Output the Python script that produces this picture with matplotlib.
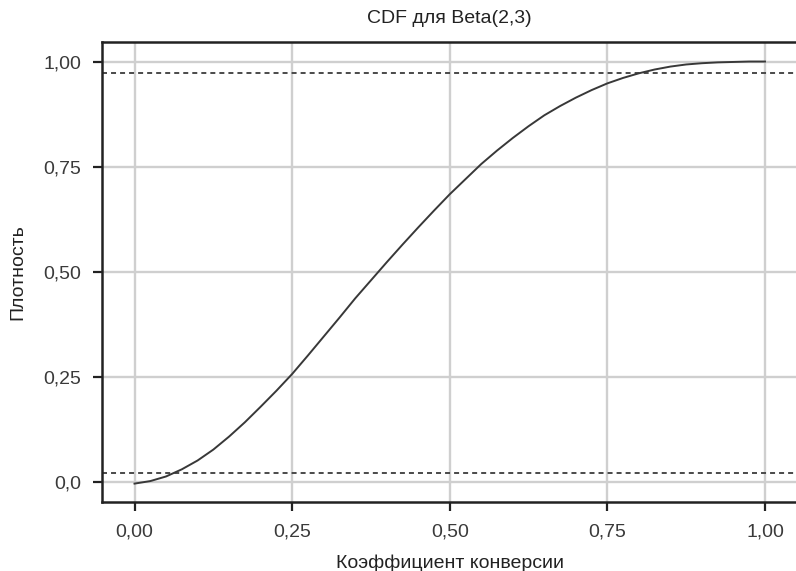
import matplotlib
matplotlib.use("Agg")
import matplotlib.pyplot as plt
from matplotlib.ticker import FixedLocator, FixedFormatter

plt.rcParams['font.family'] = ['Liberation Sans', 'DejaVu Sans']
plt.rcParams['lines.scale_dashes'] = False

# Cumulative distribution of conversion rate, Beta(2,3)
conv_rate = [0.000, 0.025, 0.050, 0.075, 0.100, 0.125, 0.150, 0.175, 0.200, 0.225,
             0.250, 0.275, 0.300, 0.325, 0.350, 0.375, 0.400, 0.425, 0.450, 0.475,
             0.500, 0.525, 0.550, 0.575, 0.600, 0.625, 0.650, 0.675, 0.700, 0.725,
             0.750, 0.775, 0.800, 0.825, 0.850, 0.875, 0.900, 0.925, 0.950, 0.975, 1.000]
cdf_values = [-0.005, 0.001, 0.012, 0.029, 0.050, 0.076, 0.107, 0.141, 0.178, 0.216,
              0.256, 0.300, 0.345, 0.390, 0.436, 0.479, 0.522, 0.564, 0.605, 0.645,
              0.684, 0.720, 0.756, 0.788, 0.818, 0.846, 0.872, 0.894, 0.914, 0.932,
              0.948, 0.961, 0.972, 0.981, 0.988, 0.993, 0.996, 0.998, 0.999, 1.000, 1.000]

# 95% interval bounds
lower_bound = 0.02
upper_bound = 0.973

x_ticks = [0.0, 0.25, 0.5, 0.75, 1.0]
x_tick_labels = ["0,00", "0,25", "0,50", "0,75", "1,00"]
y_ticks = [0.0, 0.25, 0.5, 0.75, 1.0]
y_tick_labels = ["0,0", "0,25", "0,50", "0,75", "1,00"]

title = "CDF для Beta(2,3)"
x_label = "Коэффициент конверсии"
y_label = "Плотность"

W, H = 796, 571
fig = plt.figure(figsize=(W / 100, H / 100), dpi=100)
ax = fig.add_axes([102.5 / W, 1 - 502 / H, (797 - 102.5) / W, (502 - 42.3) / H])

ax.set_xlim(-0.0508, 1.0508)
ax.set_ylim(-0.0488, 1.0458)

ax.set_axisbelow(True)
ax.grid(True, color="#cfcfcf", linewidth=1.7)

ax.axhline(lower_bound, color="#4a4a4a", linewidth=1.4, dashes=(3.6, 2.9), zorder=2)
ax.axhline(upper_bound, color="#4a4a4a", linewidth=1.4, dashes=(3.6, 2.9), zorder=2)

ax.plot(conv_rate, cdf_values, color="#383838", linewidth=1.4, zorder=3)

ax.xaxis.set_major_locator(FixedLocator(x_ticks))
ax.xaxis.set_major_formatter(FixedFormatter(x_tick_labels))
ax.yaxis.set_major_locator(FixedLocator(y_ticks))
ax.yaxis.set_major_formatter(FixedFormatter(y_tick_labels))

for side in ("top", "left", "bottom"):
    ax.spines[side].set_color("#222222")
    ax.spines[side].set_linewidth(1.8)
ax.spines["right"].set_visible(False)

ax.tick_params(axis="both", direction="out", length=6.5, width=1.6, color="#222222",
               labelsize=14, labelcolor="#3a3a3a", pad=9)

ax.set_title(title, fontsize=14, color="#222222", pad=14)
ax.set_xlabel(x_label, fontsize=14, color="#222222", labelpad=10)
ax.set_ylabel(y_label, fontsize=14, color="#222222", labelpad=12)

fig.savefig("out.png", dpi=100)
